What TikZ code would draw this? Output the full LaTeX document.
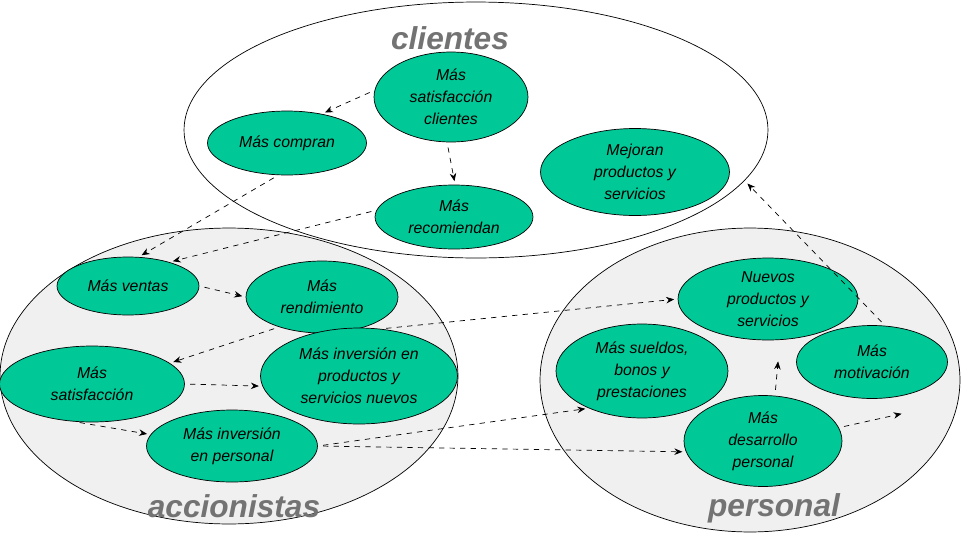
\documentclass[tikz,border=0pt]{standalone}
\usepackage{fontspec}
\setmainfont{Liberation Sans}
\usetikzlibrary{positioning, arrows.meta, shapes}
\definecolor{leaf}{RGB}{0,200,150}
\tikzset{
group/.style = {ellipse, draw, thin, fill = #1, inner sep = 0pt},
idea/.style = {ellipse, draw, thin, fill = leaf, inner sep = 0pt, align = center,
   font = \fontsize{9}{12.5}\selectfont\itshape},
title/.style = {font = \fontsize{18}{20}\selectfont\bfseries\itshape, text = black!55},
link/.style = {-{Stealth[length = 1.6mm, width = 1.3mm]}, thin, dashed, shorten > = 2pt,
   shorten < = 3pt}
}
\begin{document}
\begin{tikzpicture}[x = 0.02cm, y = -0.02cm]
\useasboundingbox (0,0) rectangle (961,538);

%% Groups
\node [group = white, minimum width = 11.68cm, minimum height = 5.12cm] (C) at (476,130) {};
\node [group = black!6, minimum width = 9.16cm, minimum height = 5.92cm] (A) at (229,376) {};
\node [group = black!6, minimum width = 8.4cm, minimum height = 6.08cm] (P) at (750,380) {};

\node [title] (tC) at (450,38) {clientes};
\node [title] (tA) at (234,506) {accionistas};
\node [title] (tP) at (774,508) {personal};

%% Clientes
\node [idea, minimum width = 3.08cm, minimum height = 1.8cm] (sc) at (451,97) {Más\\satisfacción\\clientes};
\node [idea, minimum width = 3.18cm, minimum height = 1.28cm] (co) at (287,143) {Más compran};
\node [idea, minimum width = 3.78cm, minimum height = 1.74cm] (me) at (635,172) {Mejoran\\productos y\\servicios};
\node [idea, minimum width = 3.16cm, minimum height = 1.28cm] (re) at (454,217) {Más\\recomiendan};

%% Accionistas
\node [idea, minimum width = 2.84cm, minimum height = 1.16cm] (ve) at (128,286) {Más ventas};
\node [idea, minimum width = 3.04cm, minimum height = 1.44cm] (rn) at (322,297) {Más\\rendimiento};
\node [idea, minimum width = 3.7cm, minimum height = 1.52cm] (sa) at (92,384) {Más\\satisfacción};
\node [idea, minimum width = 3.94cm, minimum height = 1.92cm] (ip) at (359,376) {Más inversión en\\productos y\\servicios nuevos};
\node [idea, minimum width = 3.42cm, minimum height = 1.44cm] (ie) at (232,446) {Más inversión\\en personal};

%% Personal
\node [idea, minimum width = 3.6cm, minimum height = 1.64cm] (np) at (768,299) {Nuevos\\productos y\\servicios};
\node [idea, minimum width = 3.44cm, minimum height = 1.88cm] (su) at (642,371) {Más sueldos,\\bonos y\\prestaciones};
\node [idea, minimum width = 3.02cm, minimum height = 1.46cm] (mo) at (872,362) {Más\\motivación};
\node [idea, minimum width = 3.16cm, minimum height = 1.82cm] (de) at (763,441) {Más\\desarrollo\\personal};
\coordinate (mo-in) at (905,413);
\coordinate (me-in) at (745,181);

%% Links
\draw [link] (sc.175) -- (co.40);
\draw [link] (sc.265) -- (re.88);
\draw [link] (co.255) -- (ve.70);
\draw [link] (re.175) -- (ve.30);
\draw [link] (ve.east) -- (rn.west);
\draw [link] (rn.215) -- (sa.15);
\draw [link] (sa.east) -- (ip.186);
\draw [link] (sa.245) -- (ie.172);
\draw [link] (ip.65) -- (np.west);
\draw [link] (ie.east) -- (su.215);
\draw [link] (ie.east) -- (de.188);
\draw [link, shorten > = 12pt] ([xshift = 0.24cm]de.north) -- ([xshift = 0.24cm]np.south);
\draw [link] (de.10) -- (mo-in);
\draw [link] (mo.70) -- (me-in);
\end{tikzpicture}
\end{document}
